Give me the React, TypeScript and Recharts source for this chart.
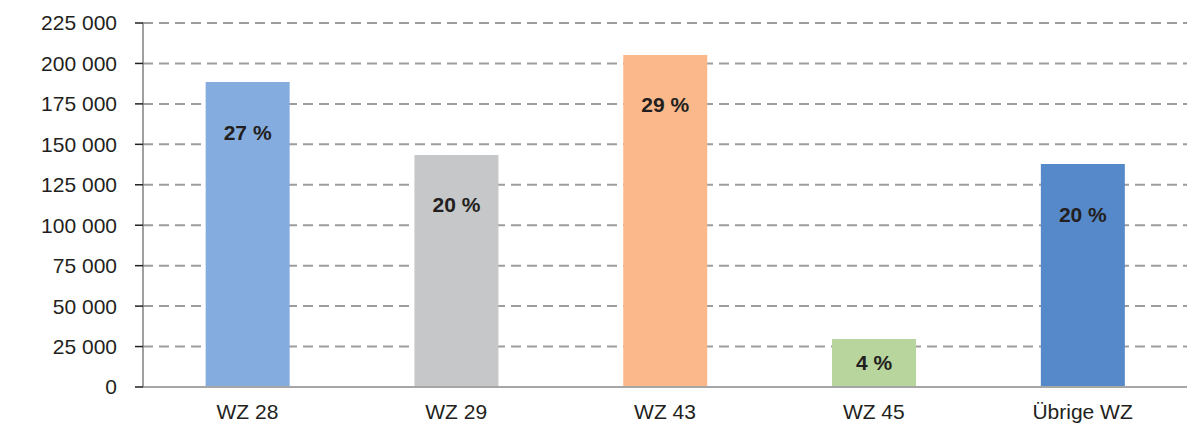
import { BarChart, Bar, XAxis, YAxis, CartesianGrid, Cell, LabelList } from "recharts";

const categories = ["WZ 28", "WZ 29", "WZ 43", "WZ 45", "Übrige WZ"];
const values = [188500, 143400, 205200, 29700, 137800];
const shares = ["27 %", "20 %", "29 %", "4 %", "20 %"];
const COLORS = ["#84acde", "#c6c7c9", "#fbb98b", "#b7d59d", "#5589ca"];
const yTicks = [0, 25000, 50000, 75000, 100000, 125000, 150000, 175000, 200000, 225000];
const edgeTicks = [0, 1, 2, 3, 4, 5];

const FONT = "'Liberation Sans', Arial, sans-serif";

const data = categories.map((name, i) => ({ name, value: values[i], share: shares[i] }));

const fmt = (v: number) => String(v).replace(/\B(?=(\d{3})+(?!\d))/g, " ");

function ShareLabel(props: any) {
  const { x, y, width, height, value } = props;
  const dy = Math.min(height / 2, 50);
  return (
    <text
      x={x + width / 2}
      y={y + dy}
      dy="0.355em"
      textAnchor="middle"
      fontFamily={FONT}
      fontSize={21}
      fontWeight="bold"
      fill="#231f20"
    >
      {value}
    </text>
  );
}

export default function App() {
  return (
    <div style={{ position: "fixed", left: 0, top: 0, background: "#fff" }}>
      <BarChart
        width={1187}
        height={423}
        data={data}
        margin={{ top: 23, right: 0, bottom: 0, left: 0 }}
        barCategoryGap="30%"
      >
        <CartesianGrid vertical={false} stroke="#9d9d9d" strokeWidth={2} strokeDasharray="10 6" />
        <XAxis
          xAxisId="edges"
          type="number"
          domain={[0, 5]}
          ticks={edgeTicks}
          height={0}
          axisLine={false}
          tickSize={6}
          tickLine={{ stroke: "#9d9d9d", strokeWidth: 1.5 }}
          tick={() => <g />}
        />
        <XAxis
          dataKey="name"
          height={36}
          tickSize={0}
          tickMargin={17}
          axisLine={{ stroke: "#a6a6a6", strokeWidth: 2 }}
          tickLine={false}
          tick={{ fill: "#231f20", fontSize: 21, fontFamily: FONT }}
        />
        <YAxis
          width={143}
          domain={[0, 225000]}
          ticks={yTicks}
          interval={0}
          tickFormatter={fmt}
          tickSize={8}
          tickMargin={18}
          axisLine={{ stroke: "#7f7f7f", strokeWidth: 1.5 }}
          tickLine={{ stroke: "#231f20", strokeWidth: 1.5 }}
          tick={{ fill: "#231f20", fontSize: 21, fontFamily: FONT }}
        />
        <Bar dataKey="value" isAnimationActive={false}>
          {data.map((_, i) => (
            <Cell key={i} fill={COLORS[i]} />
          ))}
          <LabelList dataKey="share" content={ShareLabel} />
        </Bar>
      </BarChart>
    </div>
  );
}
